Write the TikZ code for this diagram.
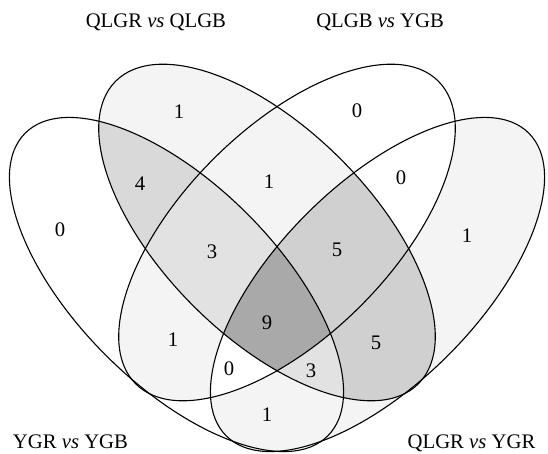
\documentclass[tikz,border=0pt]{standalone}
\usepackage{fontspec}
\setmainfont{Liberation Serif}

% the four set outlines (centres and radii in pt)
\newcommand\ellA{(176.5,169.5) ellipse [x radius=214, y radius=100]}
\newcommand\ellB{(267,221.5) ellipse [x radius=214, y radius=104]}
\newcommand\ellC{(287,221.5) ellipse [x radius=214, y radius=104]}
\newcommand\ellD{(377.5,169.5) ellipse [x radius=214, y radius=100]}

\definecolor{shadeone}{gray}{0.955}
\definecolor{shadethree}{gray}{0.886}
\definecolor{shadefour}{gray}{0.85}
\definecolor{shadefive}{gray}{0.816}
\definecolor{shadenine}{gray}{0.663}

\tikzset{
  rotA/.style={rotate around={-45:(176.5,169.5)}},
  rotB/.style={rotate around={-45:(267,221.5)}},
  rotC/.style={rotate around={45:(287,221.5)}},
  rotD/.style={rotate around={45:(377.5,169.5)}},
  setline/.style={draw=black, line width=1.1pt},
  count/.style={font=\fontsize{20.7}{24}\selectfont, inner sep=0pt},
  setname/.style={font=\fontsize{20.7}{24}\selectfont, inner sep=0pt, anchor=base},
}

\begin{document}
\begin{tikzpicture}[x=1pt, y=1pt]
\useasboundingbox (0,0) rectangle (548,454);
\fill[white] (0,0) rectangle (548,454);

% single sets
\fill[shadeone, rotB] \ellB;
\fill[shadeone, rotD] \ellD;

% pairwise overlaps
\begin{scope}\clip[rotA] \ellA; \fill[shadefour, rotB] \ellB; \end{scope}
\begin{scope}\clip[rotA] \ellA; \fill[shadeone, rotC] \ellC; \end{scope}
\begin{scope}\clip[rotA] \ellA; \fill[shadeone, rotD] \ellD; \end{scope}
\begin{scope}\clip[rotB] \ellB; \fill[shadeone, rotC] \ellC; \end{scope}
\begin{scope}\clip[rotB] \ellB; \fill[shadefive, rotD] \ellD; \end{scope}
\begin{scope}\clip[rotC] \ellC; \fill[white, rotD] \ellD; \end{scope}

% triple overlaps
\begin{scope}\clip[rotA] \ellA; \clip[rotB] \ellB; \fill[shadethree, rotC] \ellC; \end{scope}
\begin{scope}\clip[rotA] \ellA; \clip[rotB] \ellB; \fill[shadethree, rotD] \ellD; \end{scope}
\begin{scope}\clip[rotA] \ellA; \clip[rotC] \ellC; \fill[white, rotD] \ellD; \end{scope}
\begin{scope}\clip[rotB] \ellB; \clip[rotC] \ellC; \fill[shadefive, rotD] \ellD; \end{scope}

% all four
\begin{scope}\clip[rotA] \ellA; \clip[rotB] \ellB; \clip[rotC] \ellC; \fill[shadenine, rotD] \ellD; \end{scope}

% outlines
\draw[setline, rotA] \ellA;
\draw[setline, rotB] \ellB;
\draw[setline, rotC] \ellC;
\draw[setline, rotD] \ellD;

% set names
\node[setname] (nameB) at (155.9,426.7) {QLGR \textit{vs} QLGB};
\node[setname] (nameC) at (380.1,426.7) {QLGB \textit{vs} YGB};
\node[setname] (nameA) at (70.5,5.5) {YGR \textit{vs} YGB};
\node[setname] (nameD) at (471.5,5.5) {QLGR \textit{vs} YGR};

% counts
\node[count] (onlyA) at (60,224) {0};
\node[count] (onlyB) at (179,342) {1};
\node[count] (onlyC) at (357,343) {0};
\node[count] (onlyD) at (467,218) {1};
\node[count] (AB) at (140,270) {4};
\node[count] (BC) at (269,272) {1};
\node[count] (CD) at (401,276) {0};
\node[count] (ABC) at (212,202) {3};
\node[count] (BCD) at (337,204) {5};
\node[count] (ABCD) at (267,131) {9};
\node[count] (AC) at (173,114) {1};
\node[count] (BD) at (376,111) {5};
\node[count] (ACD) at (229,85) {0};
\node[count] (ABD) at (311,83) {3};
\node[count] (AD) at (267,39) {1};
\end{tikzpicture}
\end{document}
